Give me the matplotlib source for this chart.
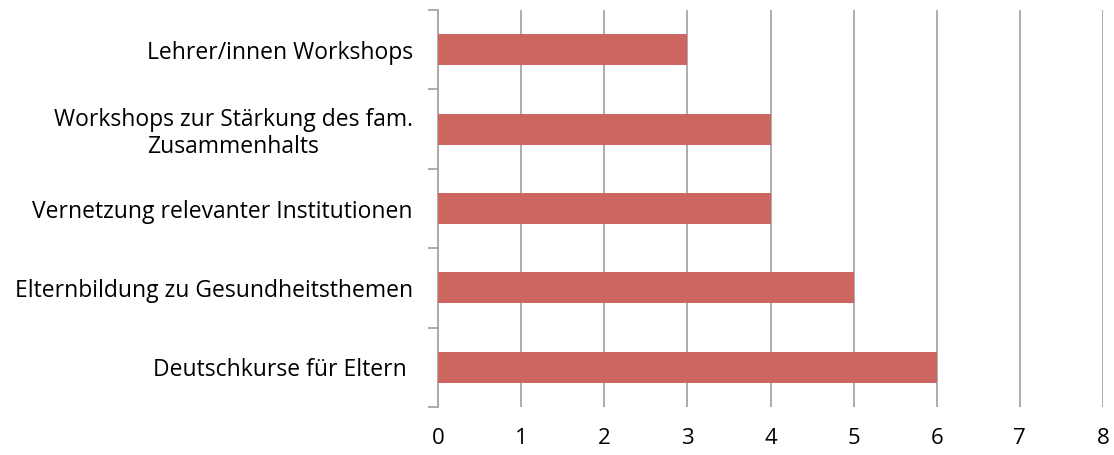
import matplotlib
matplotlib.use("Agg")
import matplotlib.pyplot as plt
from matplotlib.ticker import FixedLocator

categories = [
    "Deutschkurse für Eltern ",
    "Elternbildung zu Gesundheitsthemen",
    "Vernetzung relevanter Institutionen",
    "Workshops zur Stärkung des fam.\nZusammenhalts",
    "Lehrer/innen Workshops",
]
values = [6, 5, 4, 4, 3]
x_ticks = [0, 1, 2, 3, 4, 5, 6, 7, 8]

bar_color = "#CD6660"
grid_color = "#A6A6A6"

plt.rcParams["font.family"] = ["Open Sans", "DejaVu Sans"]

fig = plt.figure(figsize=(11.14, 4.55), dpi=100)
ax = fig.add_axes([438 / 1114, 48 / 455, (1103 - 438) / 1114, 397 / 455])

pos = list(range(len(categories)))
ax.barh(pos, values, height=0.39, color=bar_color, zorder=3)

ax.set_xlim(0, 8)
ax.set_ylim(-0.5, len(categories) - 0.5)
ax.set_xticks(x_ticks)
ax.set_xticklabels([str(t) for t in x_ticks], fontsize=16)
ax.tick_params(axis="x", length=0, pad=15)

ax.set_yticks(pos)
ax.set_yticklabels(categories, fontsize=16.5, multialignment="center", linespacing=1.15)
ax.tick_params(axis="y", which="major", length=0, pad=18)
ax.yaxis.set_minor_locator(FixedLocator([p - 0.5 for p in pos] + [len(pos) - 0.5]))
ax.tick_params(axis="y", which="minor", length=7, width=1.3, color=grid_color, direction="out")

ax.grid(axis="x", color=grid_color, linewidth=1.3, zorder=0)
for s in ["top", "right", "bottom"]:
    ax.spines[s].set_visible(False)
ax.spines["left"].set_color(grid_color)
ax.spines["left"].set_linewidth(1.3)

fig.savefig("out.png", dpi=100)
